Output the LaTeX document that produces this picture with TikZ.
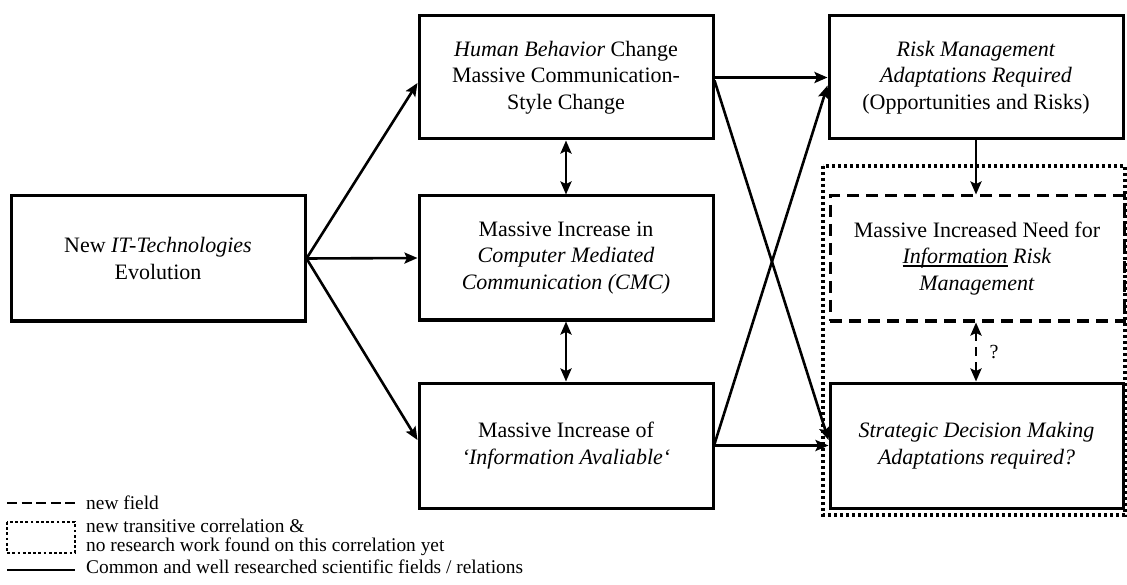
\documentclass[tikz,border=0pt]{standalone}
\usepackage{fontspec}
\setmainfont{Liberation Serif}
\usetikzlibrary{arrows.meta}
\newcommand\myul[1]{\setbox0\hbox{#1}\rlap{\rule[-2.6pt]{\wd0}{1.1pt}}\box0\relax}
\tikzset{
  box/.style={draw, line width=3pt, rectangle, align=center, inner sep=0pt,
    font=\fontsize{22}{26.5}\selectfont, minimum width=294pt},
  dashbox/.style={box, dash pattern=on 12pt off 7pt},
  conn/.style={line width=2.6pt, -{Stealth[length=13pt,width=11pt,inset=2.5pt]}},
  dconn/.style={line width=2.6pt, {Stealth[length=13pt,width=11pt,inset=2.5pt]}-{Stealth[length=13pt,width=11pt,inset=2.5pt]}},
  dotline/.style={line width=3.2pt, dash pattern=on 3.2pt off 2.8pt},
  legtext/.style={anchor=base west, inner sep=0pt, font=\fontsize{19.4}{22}\selectfont}
}
\begin{document}
\begin{tikzpicture}[x=1pt,y=-1pt]
\useasboundingbox (0,0) rectangle (1127,585);
% transitive region
\draw[dotline] (823,166) rectangle (1125,515);
% boxes
\node[box, minimum height=125pt] (A) at (158,258.5) {New \textit{IT-Technologies}\\Evolution};
\node[box, minimum height=123pt] (B) at (566,77.5) {\textit{Human Behavior} Change\\Massive Communication-\\Style Change};
\node[box, minimum height=124pt] (C) at (566,258) {Massive Increase in\\\textit{Computer Mediated}\\\textit{Communication (CMC)}};
\node[box, minimum height=125pt] (D) at (566,445.5) {Massive Increase of\\\textit{‘Information Avaliable‘}};
\node[box, minimum height=123pt] (E) at (976,77.5) {\textit{Risk Management}\\\textit{Adaptations Required}\\(Opportunities and Risks)};
\node[dashbox, minimum height=125pt] (F) at (977,258.5) {Massive Increased Need for\\\myul{\textit{Information}}\ \textit{Risk}\\\textit{Management}};
\node[box, minimum height=125pt, minimum width=293pt] (G) at (976.5,445.5) {\textit{Strategic Decision Making}\\\textit{Adaptations required?}};
% connectors
\draw[conn] (A.east) -- ([yshift=-5.5pt]B.west);
\draw[conn] (A.east) -- (C.west);
\draw[conn] (A.east) -- ([yshift=5.5pt]D.west);
\draw[dconn] (B.south) -- (C.north);
\draw[dconn] (C.south) -- (D.north);
\draw[conn] (B.east) -- (E.west);
\draw[conn] ([yshift=-3pt]B.east) -- ([yshift=5.5pt]G.west);
\draw[conn] ([yshift=1.5pt]D.east) -- ([yshift=-8pt]E.west);
\draw[conn] (D.east) -- (G.west);
\draw[conn] (E.south) -- (E.south |- F.north);
\draw[dconn, dash pattern=on 9pt off 6pt] (F.south -| E.south) -- (E.south |- G.north);
\node[font=\fontsize{20}{22}\selectfont, inner sep=0pt] (q) at (994,352) {?};
% legend
\coordinate (l1a) at (7,503); \coordinate (l1b) at (75,503);
\draw[line width=2.8pt, dash pattern=on 10pt off 4.6pt] (l1a) -- (l1b);
\node[legtext] (t1) at (86,509) {new field};
\draw[dotline, line width=2.8pt, dash pattern=on 2.8pt off 2.4pt] (7,522) rectangle (75,553);
\node[legtext] (t2) at (86,532) {new transitive correlation \&};
\node[legtext] (t3) at (86,551) {no research work found on this correlation yet};
\coordinate (l3a) at (7,570); \coordinate (l3b) at (75,570);
\draw[line width=2.8pt] (l3a) -- (l3b);
\node[legtext] (t4) at (86,573) {Common and well researched scientific fields / relations};
\end{tikzpicture}
\end{document}
